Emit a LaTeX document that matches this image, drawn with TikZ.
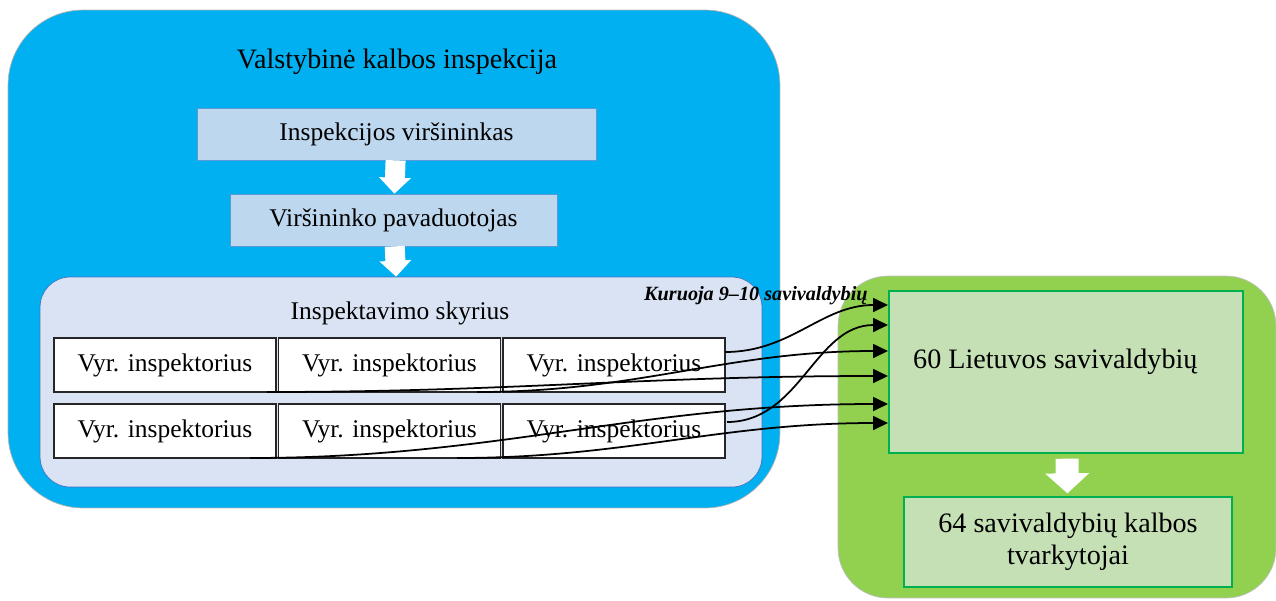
\documentclass[tikz,border=0pt]{standalone}
\usepackage{fontspec}
\setmainfont{Liberation Serif}
\usetikzlibrary{arrows.meta, calc}
\definecolor{vkiblue}{HTML}{00B0F0}
\definecolor{vadblue}{HTML}{BDD7EE}
\definecolor{vadline}{HTML}{5B9BD5}
\definecolor{skyblue}{HTML}{DAE3F3}
\definecolor{skyline}{HTML}{4472C4}
\definecolor{savgreen}{HTML}{92D050}
\definecolor{savfill}{HTML}{C5E0B4}
\definecolor{savline}{HTML}{00B050}
\tikzset{
	every node/.style={
		font=\fontsize{14.5}{17}\selectfont
	},
	vki/.style={
		shape=rectangle,
		rounded corners=1.5cm,
		fill=vkiblue,
		draw=gray!60,
		minimum width=15.44cm,
		minimum height=9.96cm
	},
	vadovas/.style={
		shape=rectangle,
		fill=vadblue,
		draw=vadline,
		minimum height=1.04cm
	},
	skyrius/.style={
		shape=rectangle,
		rounded corners=0.6cm,
		fill=skyblue,
		draw=skyline,
		minimum width=14.44cm,
		minimum height=4.2cm
	},
	inspektorius/.style={
		shape=rectangle,
		fill=white,
		draw=black!85,
		line width=0.8pt,
		minimum width=4.44cm,
		minimum height=1.08cm
	},
	savgr/.style={
		shape=rectangle,
		rounded corners=1cm,
		fill=savgreen,
		draw=gray!50,
		minimum width=8.76cm,
		minimum height=6.44cm
	},
	savbox/.style={
		shape=rectangle,
		fill=savfill,
		draw=savline,
		line width=0.8pt
	},
	big/.style={
		font=\fontsize{16}{18}\selectfont
	},
	kuruoja/.style={
		font=\fontsize{11.5}{13}\selectfont\bfseries\itshape
	},
	bigarrow/.style={
		draw=white,
		line width=0.4cm,
		-{Triangle[length=0.32cm 0 0,width=0.62cm 0 0]}
	},
	bigarrow2/.style={
		draw=white,
		line width=0.46cm,
		shorten <=0.1cm,
		shorten >=0.06cm,
		-{Triangle[length=0.4cm 0 0,width=0.86cm 0 0]}
	},
	myarrow/.style={
		draw=black,
		line width=1pt,
		-{Triangle[length=0.3cm 0 0,width=0.28cm 0 0]}
	}
}

\begin{document}
\begin{tikzpicture}
	[x=0.02cm, y=-0.02cm]
	\useasboundingbox (0,0) rectangle (1276,600);
	
	\node[vki] (vki) at (394,259) {};
	\node[big] (vkititle) at (397,62) {Valstybinė kalbos inspekcija};
	\node[vadovas, minimum width=7.98cm] (virs) at (396.5,134) {Inspekcijos viršininkas};
	\node[vadovas, minimum width=6.54cm] (pav) at (393.5,220) {Viršininko pavaduotojas};
	\node[skyrius] (sky) at (401,382) {};
	\node (skytitle) at (400,313) {Inspektavimo skyrius};
	
	\foreach \c / \x in {1/165,2/389.5,3/614}
	\foreach \r / \y in {1/365,2/431}
	\node[inspektorius] (V-\r-\c) at (\x,\y) {Vyr. inspektorius};
	
	\draw[bigarrow] (virs) -- (pav);
	\draw[bigarrow] (pav) -- (sky);
	
	% savivaldybes
	\node[savgr] (savgr) at (1057,437) {};
	\node[savbox, minimum width=7.08cm, minimum height=3.24cm] (sav) at (1066,372) {};
	\node[big, anchor=west] (savtxt) at (907,362) {60 Lietuvos savivaldybių};
	\node[savbox, big, minimum width=6.56cm, minimum height=1.8cm, align=center] (tvark) at (1068,542) {64 savivaldybių kalbos\\tvarkytojai};
	\draw[bigarrow2] (sav) -- (tvark);
	
	% kuravimas
	\coordinate (S-1) at (725,352);
	\coordinate (S-2) at (727,422);
	\coordinate (S-3) at (477,392);
	\coordinate (S-4) at (267,392);
	\coordinate (S-5) at (250,458);
	\coordinate (S-6) at (457,458);
	\foreach \n / \y in {1/305,2/325,3/351,4/376,5/404,6/423}
	\coordinate (T-\n) at (888,\y);
	
	\foreach \n in {1,...,6}
	\draw[myarrow] (S-\n) to[out=0,in=180] (T-\n);
	
	\node[kuruoja, anchor=west] (kur) at (638,296) {Kuruoja 9–10 savivaldybių};
\end{tikzpicture}
\end{document}
